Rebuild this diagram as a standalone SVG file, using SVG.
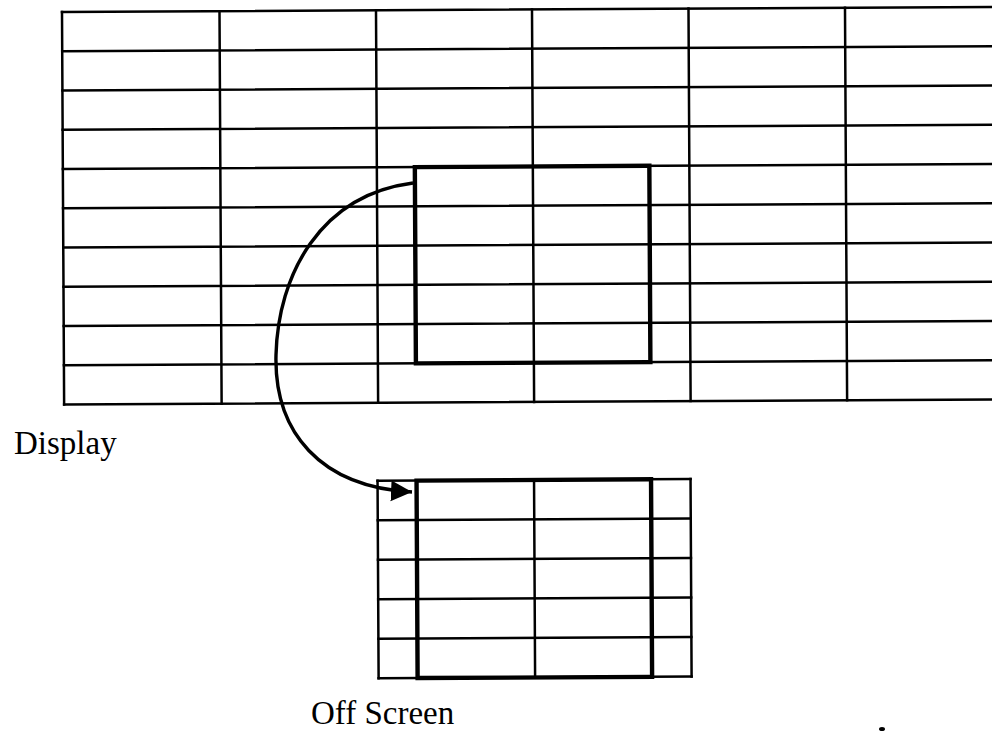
<svg xmlns="http://www.w3.org/2000/svg" width="992" height="732" viewBox="0 0 992 732">
  <style>
    .grid { stroke: #000; stroke-width: 2.5; fill: none; stroke-linecap: square; }
    .bold { stroke: #000; stroke-width: 4.4; fill: none; stroke-linejoin: miter; }
    .conn { stroke: #000; stroke-width: 3.4; fill: none; }
    .label { font-family: "Liberation Serif", "Times New Roman", serif; font-size: 33px; fill: #000; }
  </style>
  <defs>
    <marker id="arrow" markerUnits="userSpaceOnUse" markerWidth="24" markerHeight="24" refX="21" refY="10.5" orient="auto">
      <path d="M0,0 L21,10.5 L0,21 Z" fill="#000"/>
    </marker>
  </defs>
  <rect width="992" height="732" fill="#fff"/>
  <g transform="rotate(-0.31 62 12)">
    <g id="display-grid" class="grid">
      <path d="M62,12 H1010 M62,51.25 H1010 M62,90.5 H1010 M62,129.75 H1010 M62,169 H1010 M62,208.25 H1010 M62,247.5 H1010 M62,286.75 H1010 M62,326 H1010 M62,365.25 H1010 M62,404.5 H1010"/>
      <path d="M62,12 V404.5 M219.5,12 V404.5 M376,12 V404.5 M532,12 V404.5 M688.5,12 V404.5 M845,12 V404.5"/>
    </g>
    <g id="display-window">
      <rect class="bold" x="414" y="169" width="234.5" height="196.25"/>
    </g>
    <g id="offscreen-grid" class="grid">
      <path d="M375,482.5 H688 M375,522 H688 M375,561.5 H688 M375,601 H688 M375,640.5 H688 M375,680 H688"/>
      <path d="M375,482.5 V680 M531.5,482.5 V680 M688,482.5 V680"/>
    </g>
    <g id="offscreen-window">
      <rect class="bold" x="414" y="482.5" width="234.5" height="197.5"/>
    </g>
  </g>
  <g id="connectors">
    <path class="conn" d="M413,183 C320,195 278,275 276,355 C274,432 320,487 412,492" marker-end="url(#arrow)"/>
  </g>
  <g id="labels">
    <text class="label" x="14" y="454">Display</text>
    <text class="label" x="311" y="724">Off Screen</text>
  </g>
  <ellipse cx="882" cy="729" rx="3" ry="2" fill="#000"/>
</svg>
